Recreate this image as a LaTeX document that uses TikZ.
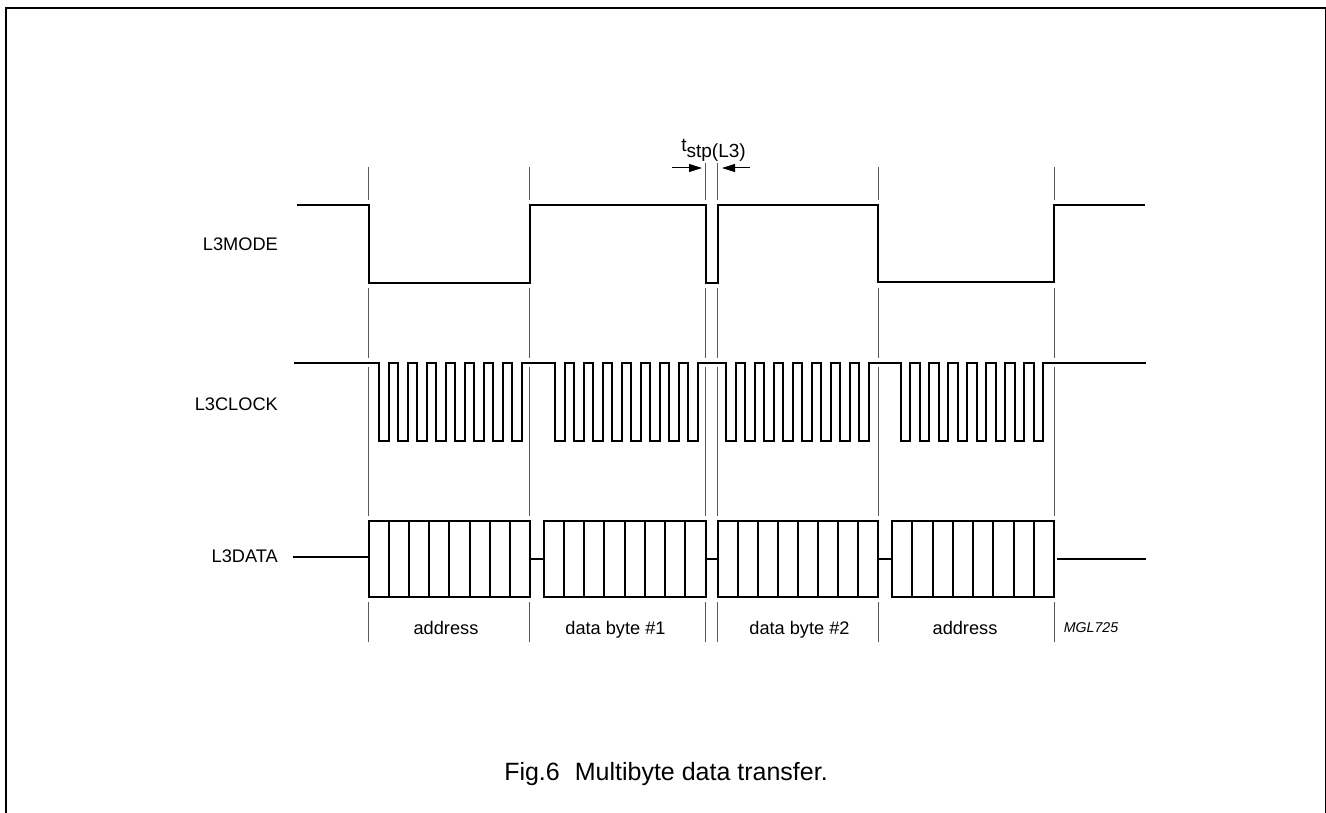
\documentclass[tikz,border=0pt]{standalone}
\usepackage{fontspec}
\setmainfont{Liberation Sans}
\usetikzlibrary{arrows.meta}
\tikzset{
  x=1pt,y=-1pt,
  sig/.style={draw=black,line width=2pt,line join=miter},
  guide/.style={draw=black!65,line width=1pt},
  frame/.style={draw=black,line width=2pt},
  lab/.style={font=\fontsize{18.2}{20}\selectfont,inner sep=0pt},
  dim/.style={draw=black,line width=1pt,-{Triangle[length=13pt,width=8pt]}}
}
\begin{document}
\begin{tikzpicture}
\useasboundingbox (0,0) rectangle (1326,813);
\draw[frame] (6.3,813) -- (6.3,7.7) -- (1326,7.7) -- (1326,813);
% guides
\foreach \g in {368.7,529.7,878,1054}{
  \draw[guide] (\g,167) -- (\g,200);
}
\foreach \g in {705.5,717.7}{
  \draw[guide] (\g,163) -- (\g,200);
}
\foreach \g in {368.7,529.7,705.5,717.7,878,1054}{
  \draw[guide] (\g,288) -- (\g,358);
  \draw[guide] (\g,367) -- (\g,516);
  \draw[guide] (\g,602) -- (\g,642);
}
% L3MODE
\draw[sig] (297,205) -- (369,205) -- (369,283) -- (530,283) -- (530,205) -- (705.5,205) -- (705.5,283) -- (717.7,283) -- (717.7,205) -- (878,205) -- (878,282) -- (1054,282) -- (1054,205) -- (1145,205);
% L3CLOCK
\def\hi{363.3}\def\lo{440.7}
\newcommand{\burst}[1]{%
  \foreach \k in {0,...,7}{
    \pgfmathsetmacro{\xa}{#1+19.03*\k}
    \pgfmathsetmacro{\xb}{\xa+9.6}
    \pgfmathsetmacro{\xc}{\xa+19.03}
    \draw[sig,line cap=rect] (\xa,\hi) -- (\xa,\lo) -- (\xb,\lo) -- (\xb,\hi);
    \ifnum\k<7 \draw[sig,line cap=rect] (\xb,\hi) -- (\xc,\hi);\fi
  }}
\burst{379}\burst{555}\burst{726}\burst{900.5}
\draw[sig] (294,\hi) -- (379,\hi);
\draw[sig] (522,\hi) -- (555,\hi);
\draw[sig] (698,\hi) -- (726,\hi);
\draw[sig] (869,\hi) -- (900.5,\hi);
\draw[sig] (1043.5,\hi) -- (1146,\hi);
% L3DATA
\def\dt{520.7}\def\db{597.3}
\newcommand{\dbox}[2]{%
  \foreach \k in {1,...,7}{
    \pgfmathsetmacro{\xa}{#1+(#2-#1)*\k/8}
    \draw[sig] (\xa,\dt) -- (\xa,\db);
  }
  \draw[sig] (#1,\dt) rectangle (#2,\db);}
\dbox{368.7}{530}\dbox{543.5}{705.5}\dbox{717.7}{878}\dbox{892}{1054}
\draw[sig] (293,557) -- (368.7,557);
\draw[sig] (530,559.3) -- (543.5,559.3);
\draw[sig] (705.5,559.3) -- (717.7,559.3);
\draw[sig] (878,559.3) -- (892,559.3);
\draw[sig] (1057,559.3) -- (1146,559.3);
% labels
\node[lab,anchor=base east] (m) at (278,251) {L3MODE};
\node[lab,anchor=base east] (c) at (278,410.7) {L3CLOCK};
\node[lab,anchor=base east] (d) at (278,562.7) {L3DATA};
\node[lab,anchor=base] (a1) at (446,634) {address};
\node[lab,anchor=base] (a2) at (615.5,634) {data byte \#1};
\node[lab,anchor=base] (a3) at (799.5,634) {data byte \#2};
\node[lab,anchor=base] (a4) at (965,634) {address};
\node[inner sep=0pt,anchor=base,font=\fontsize{14.2}{16}\selectfont\itshape] (mgl) at (1091,632.3) {MGL725};
\node[font=\fontsize{25}{28}\selectfont,inner sep=0pt,anchor=base] (cap) at (666,780) {Fig.6\hspace{0.6em}Multibyte data transfer.};
\node[font=\fontsize{19}{21}\selectfont,inner sep=0pt,anchor=base] (t) at (713.5,152) {t\raisebox{-6pt}{stp(L3)}};
\coordinate (d1s) at (672,168);
\coordinate (d1e) at (702,168);
\coordinate (d2s) at (750,168);
\coordinate (d2e) at (722,168);
\draw[dim] (d1s) -- (d1e);
\draw[dim] (d2s) -- (d2e);
\end{tikzpicture}
\end{document}
